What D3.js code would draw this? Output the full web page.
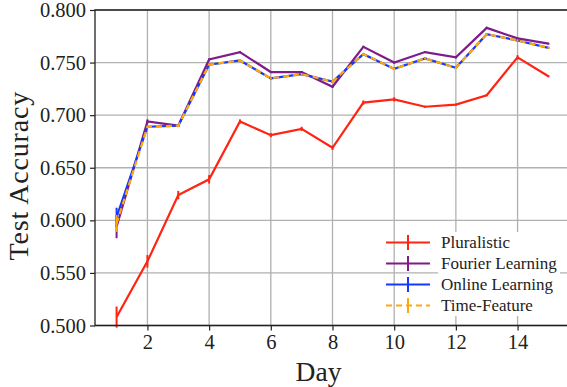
<!DOCTYPE html>
<html>
<head>
<meta charset="utf-8">
<script src="https://cdn.jsdelivr.net/npm/d3@7"></script>
<style>
  body { margin: 0; background: #fff; }
  svg { display: block; font-family: "Liberation Serif", "DejaVu Serif", serif; }
</style>
</head>
<body>
<div id="chart"></div>
<script>
// days 1..15
const days = [1, 2, 3, 4, 5, 6, 7, 8, 9, 10, 11, 12, 13, 14, 15];

const pluralistic = [0.508, 0.561, 0.624, 0.639, 0.694, 0.681, 0.687, 0.669, 0.712, 0.715, 0.708, 0.710, 0.719, 0.755, 0.737];
const pluralisticErr = [0.010, 0.006, 0.004, 0.004, 0.002, 0.002, 0.002, 0.002, 0.002, 0.002, 0.001, 0.001, 0.001, 0.002, 0.001];

const fourier = [0.594, 0.694, 0.690, 0.753, 0.760, 0.741, 0.741, 0.727, 0.765, 0.750, 0.760, 0.755, 0.783, 0.773, 0.768];
const fourierErr = [0.011, 0.002, 0.001, 0.001, 0.001, 0.001, 0.001, 0.001, 0.001, 0.001, 0.001, 0.001, 0.001, 0.001, 0.001];

const online = [0.603, 0.689, 0.690, 0.748, 0.752, 0.735, 0.739, 0.732, 0.758, 0.744, 0.754, 0.745, 0.777, 0.771, 0.764];
const onlineErr = [0.009, 0.001, 0.001, 0.001, 0.001, 0.001, 0.001, 0.001, 0.001, 0.001, 0.001, 0.001, 0.001, 0.001, 0.001];

const timeFeature = [0.597, 0.689, 0.690, 0.748, 0.752, 0.735, 0.739, 0.732, 0.758, 0.744, 0.754, 0.745, 0.777, 0.771, 0.764];
const timeFeatureErr = [0.008, 0.001, 0.001, 0.001, 0.001, 0.001, 0.001, 0.001, 0.001, 0.001, 0.001, 0.001, 0.001, 0.001, 0.001];

const xTicks = [2, 4, 6, 8, 10, 12, 14];
const yTicks = [0.50, 0.55, 0.60, 0.65, 0.70, 0.75, 0.80];

const width = 567, height = 387;
const mLeft = 95, mRight = 570, mTop = 10, mBottom = 325.5;
const serif = "'Liberation Serif', 'DejaVu Serif', serif";

const svg = d3.select("#chart").append("svg")
    .attr("width", width)
    .attr("height", height);

const x = d3.scaleLinear().domain([0.3, 15.7]).range([mLeft, mRight]);
const y = d3.scaleLinear().domain([0.5, 0.8]).range([mBottom, mTop]);

// grid
svg.append("g").selectAll("line")
    .data(xTicks).join("line")
    .attr("x1", d => x(d)).attr("x2", d => x(d))
    .attr("y1", mTop).attr("y2", mBottom)
    .attr("stroke", "#b0b0b0").attr("stroke-width", 1.3);

svg.append("g").selectAll("line")
    .data(yTicks).join("line")
    .attr("x1", mLeft).attr("x2", mRight)
    .attr("y1", d => y(d)).attr("y2", d => y(d))
    .attr("stroke", "#b0b0b0").attr("stroke-width", 1.3);

// series
const series = [
    { name: "Pluralistic", values: pluralistic, err: pluralisticErr, color: "#ff2412", dash: null },
    { name: "Fourier Learning", values: fourier, err: fourierErr, color: "#7d1c8a", dash: null },
    { name: "Online Learning", values: online, err: onlineErr, color: "#1538ff", dash: null },
    { name: "Time-Feature", values: timeFeature, err: timeFeatureErr, color: "#ffa80a", dash: "6,4" }
];

const line = d3.line()
    .x((d, i) => x(days[i]))
    .y(d => y(d));

series.forEach(s => {
    const g = svg.append("g");
    g.append("path")
        .datum(s.values)
        .attr("fill", "none")
        .attr("stroke", s.color)
        .attr("stroke-width", 2.2)
        .attr("stroke-dasharray", s.dash)
        .attr("d", line);

    g.selectAll("line.err")
        .data(s.values).join("line")
        .attr("class", "err")
        .attr("x1", (d, i) => x(days[i])).attr("x2", (d, i) => x(days[i]))
        .attr("y1", (d, i) => y(d - s.err[i]))
        .attr("y2", (d, i) => y(d + s.err[i]))
        .attr("stroke", s.color)
        .attr("stroke-width", 2);
});

// axes
const xAxis = d3.axisBottom(x).tickValues(xTicks).tickSize(5).tickPadding(4)
    .tickFormat(d3.format("d"));
const yAxis = d3.axisLeft(y).tickValues(yTicks).tickSize(5).tickPadding(4)
    .tickFormat(d3.format(".3f"));

const gx = svg.append("g")
    .attr("transform", "translate(0," + mBottom + ")")
    .call(xAxis);
const gy = svg.append("g")
    .attr("transform", "translate(" + mLeft + ",0)")
    .call(yAxis);

[gx, gy].forEach(g => {
    g.attr("font-family", serif).attr("font-size", 20.5);
    g.select(".domain").remove();
    g.selectAll(".tick line").attr("stroke", "#222").attr("stroke-width", 1.2);
    g.selectAll(".tick text").attr("fill", "#222");
});

// spines
svg.append("path")
    .attr("d", "M" + mLeft + "," + mBottom + "V" + mTop + "H" + mRight + "V" + mBottom + "Z")
    .attr("fill", "none")
    .attr("stroke", "#222")
    .attr("stroke-width", 1.3);

// axis labels
svg.append("text")
    .attr("x", (mLeft + mRight) / 2 - 14)
    .attr("y", 381)
    .attr("text-anchor", "middle")
    .attr("fill", "#222")
    .attr("font-family", serif)
    .attr("font-size", 27.5)
    .text("Day");

svg.append("text")
    .attr("transform", "translate(28," + ((mTop + mBottom) / 2 + 8) + ") rotate(-90)")
    .attr("text-anchor", "middle")
    .attr("fill", "#222")
    .attr("font-family", serif)
    .attr("font-size", 28)
    .attr("letter-spacing", 0.8)
    .text("Test Accuracy");

// legend
const legend = svg.append("g").attr("font-family", serif);
const legY0 = 242.5, legStep = 21;

legend.append("rect")
    .attr("x", 438).attr("y", 232)
    .attr("width", 122).attr("height", 84)
    .attr("fill", "#fff");

series.forEach((s, i) => {
    const ly = legY0 + i * legStep;
    legend.append("line")
        .attr("x1", 386).attr("x2", 430)
        .attr("y1", ly).attr("y2", ly)
        .attr("stroke", s.color)
        .attr("stroke-width", 2.2)
        .attr("stroke-dasharray", s.dash);
    legend.append("line")
        .attr("x1", 408).attr("x2", 408)
        .attr("y1", ly - 7.5).attr("y2", ly + 7.5)
        .attr("stroke", s.color)
        .attr("stroke-width", 2);
    legend.append("text")
        .attr("x", 441)
        .attr("y", ly + 5.5)
        .attr("fill", "#222")
        .attr("font-size", 17)
        .text(s.name);
});
</script>
</body>
</html>
